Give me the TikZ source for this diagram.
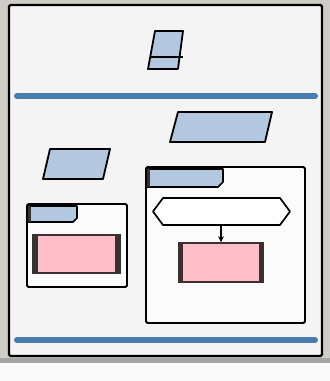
\documentclass[tikz,border=0pt]{standalone}
\usetikzlibrary{arrows.meta}
\definecolor{bgpaper}{HTML}{CFCBC6}
\definecolor{panelfill}{HTML}{F4F4F4}
\definecolor{lightblue}{HTML}{B3C7E0}
\definecolor{barblue}{HTML}{4A7DAE}
\definecolor{pinkfill}{HTML}{FFBDC8}
\definecolor{darkedge}{HTML}{3A3030}
\tikzset{
  panel/.style={draw=black, line width=2.4pt, fill=panelfill, rounded corners=1.5pt},
  datashape/.style={draw=black, line width=1.8pt, fill=lightblue, line join=round},
  bar/.style={draw=barblue, line width=6pt, line cap=round},
  container/.style={draw=black, line width=1.9pt, fill=white!60!panelfill, rounded corners=1.5pt},
  tabshape/.style={draw=black, line width=1.7pt, fill=lightblue, line join=round},
  pinkbox/.style={draw=darkedge, line width=1.7pt, fill=pinkfill},
  hexshape/.style={draw=black, line width=1.7pt, fill=white, line join=round},
  conn/.style={draw=black, line width=1.5pt, -{Stealth[length=6pt,width=6pt]}}
}
\begin{document}
\begin{tikzpicture}[x=1pt,y=-1pt]
\useasboundingbox (0,0) rectangle (330,381);
\fill[bgpaper] (0,0) rectangle (330,381);
% bottom strip
\fill[gray!70] (0,358) rectangle (330,363);
\fill[white!96!gray] (0,363) rectangle (330,381);
% main panel
\draw[panel] (9,5) rectangle (322,356);
% top small shape
\draw[datashape] (155,31) -- (183,31) -- (178,69) -- (148,69) -- cycle;
\draw[black, line width=2pt] (150,57) -- (183,57);
% bars
\draw[bar] (17,96) -- (315,96);
\draw[bar] (17,340) -- (315,340);
% parallelograms
\draw[datashape] (178,112) -- (272,112) -- (265,142) -- (170,142) -- cycle;
\draw[datashape] (50,149) -- (110,149) -- (103,179) -- (43,179) -- cycle;
% left container
\draw[container] (27,204) rectangle (127,287);
\draw[tabshape] (28,206) -- (77,206) -- (77,218) -- (73,222) -- (28,222) -- cycle;
\fill[darkedge] (28,206) rectangle (31,222);
\node[pinkbox, minimum width=87pt, minimum height=38pt, inner sep=0pt] (p1) at (76.5,254) {};
\fill[darkedge] (33,235) rectangle (38,273);
\fill[darkedge] (115,235) rectangle (120,273);
% right container
\draw[container] (146,167) rectangle (305,323);
\draw[tabshape] (147,169) -- (223,169) -- (223,182) -- (218,187) -- (147,187) -- cycle;
\fill[darkedge] (147,169) rectangle (150,187);
\draw[hexshape] (163,198) -- (280,198) -- (290,211.5) -- (280,225) -- (163,225) -- (153,211.5) -- cycle;
\coordinate (hx) at (221,225);
\node[pinkbox, minimum width=84pt, minimum height=39pt, inner sep=0pt] (p2) at (221,262.5) {};
\fill[darkedge] (179,243) rectangle (183,282);
\fill[darkedge] (259,243) rectangle (263,282);
\draw[conn] (hx) -- (p2.north);
\end{tikzpicture}
\end{document}
